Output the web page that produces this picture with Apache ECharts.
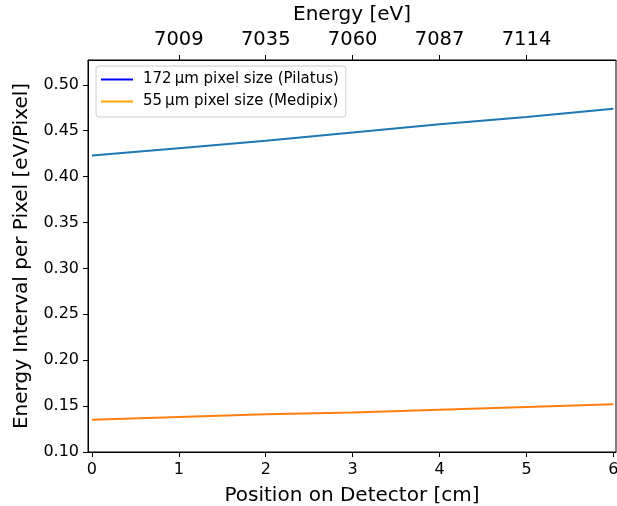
<!DOCTYPE html>
<html><head><meta charset="utf-8">
<script src="https://cdn.jsdelivr.net/npm/echarts@6/dist/echarts.min.js"></script>
<style>html,body{margin:0;padding:0;background:#fff}#c{width:617px;height:506px}</style>
</head><body><div id="c"></div>
<script>
const positions = [0, 1, 2, 3, 4, 5, 6];
const pilatus = [0.423, 0.431, 0.439, 0.448, 0.457, 0.465, 0.474];
const medipix = [0.135, 0.138, 0.141, 0.143, 0.146, 0.149, 0.152];
const bottomTicks = [0, 1, 2, 3, 4, 5, 6];
const topTickPos = [1, 2, 3, 4, 5];
const topTickLabels = ['7009', '7035', '7060', '7087', '7114'];
const yTicks = [0.10, 0.15, 0.20, 0.25, 0.30, 0.35, 0.40, 0.45, 0.50];

const font = 'DejaVu Sans';
const chart = echarts.init(document.getElementById('c'));
const axisLine = {show: true, onZero: false, lineStyle: {color: '#000', width: 1}};
chart.setOption({
  animation: false,
  textStyle: {fontFamily: font},
  grid: {left: 88, right: 1, top: 60, bottom: 54, outerBoundsMode: 'none', containLabel: false,
         show: true, borderColor: '#000', borderWidth: 1, backgroundColor: 'transparent'},
  legend: {
    left: 96, top: 66, orient: 'vertical', itemGap: 7, itemWidth: 32, itemHeight: 2, icon: 'rect',
    padding: [6, 7, 8, 5], borderColor: '#ccc', borderWidth: 1, borderRadius: 3,
    backgroundColor: 'rgba(255,255,255,0.8)',
    textStyle: {fontFamily: font, fontSize: 15, color: '#000', padding: [0, 0, 0, 5]},
    data: ['172\u2009μm pixel size (Pilatus)', '55\u2009μm pixel size (Medipix)']
  },
  xAxis: [
    {
      type: 'value', position: 'bottom', min: -0.045, max: 6.03, axisLine, splitLine: {show: false},
      name: 'Position on Detector [cm]', nameLocation: 'middle', nameGap: 34,
      nameTextStyle: {fontSize: 20, color: '#000', fontFamily: font},
      axisTick: {show: true, length: 5, lineStyle: {color: '#000'}, customValues: bottomTicks},
      axisLabel: {fontSize: 16, color: '#000', margin: 10, fontFamily: font, customValues: bottomTicks, formatter: v => String(Math.round(v))}
    },
    {
      type: 'value', position: 'top', min: -0.045, max: 6.03, axisLine, splitLine: {show: false},
      name: 'Energy [eV]', nameLocation: 'middle', nameGap: 35,
      nameTextStyle: {fontSize: 20, color: '#000', fontFamily: font},
      axisTick: {show: true, length: 5, lineStyle: {color: '#000'}, customValues: topTickPos},
      axisLabel: {fontSize: 19.5, color: '#000', margin: 10, fontFamily: font, customValues: topTickPos,
        formatter: v => { const i = topTickPos.indexOf(Math.round(v)); return i >= 0 ? topTickLabels[i] : ''; }}
    }
  ],
  yAxis: {
    type: 'value', min: 0.1, max: 0.527, axisLine, splitLine: {show: false},
    name: 'Energy Interval per Pixel [eV/Pixel]', nameLocation: 'middle', nameGap: 56,
    nameTextStyle: {fontSize: 20, color: '#000', fontFamily: font},
    axisTick: {show: true, length: 5, lineStyle: {color: '#000'}, customValues: yTicks},
    axisLabel: {fontSize: 16, color: '#000', margin: 9, fontFamily: font, customValues: yTicks, formatter: v => v.toFixed(2)}
  },
  series: [
    {type: 'line', name: 'pilatus_data', xAxisIndex: 0, data: positions.map((x, i) => [x, pilatus[i]]),
     showSymbol: false, symbol: 'none', lineStyle: {color: '#1f77b4', width: 2}, itemStyle: {color: '#1f77b4'}},
    {type: 'line', name: 'medipix_data', xAxisIndex: 0, data: positions.map((x, i) => [x, medipix[i]]),
     showSymbol: false, symbol: 'none', lineStyle: {color: '#ff7f0e', width: 2}, itemStyle: {color: '#ff7f0e'}},
    {type: 'line', name: '172\u2009μm pixel size (Pilatus)', data: [], symbol: 'none',
     lineStyle: {color: 'blue', width: 2}, itemStyle: {color: 'blue'}},
    {type: 'line', name: '55\u2009μm pixel size (Medipix)', data: [], symbol: 'none',
     lineStyle: {color: 'orange', width: 2}, itemStyle: {color: 'orange'}}
  ]
});
</script></body></html>
